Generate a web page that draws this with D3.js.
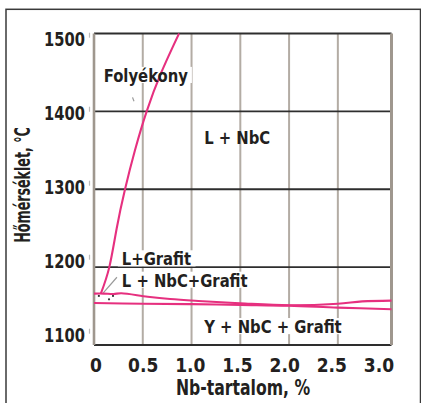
<!DOCTYPE html>
<html>
<head>
<meta charset="utf-8">
<script src="https://cdn.jsdelivr.net/npm/d3@7"></script>
<style>
  html, body { margin: 0; padding: 0; background: #fff; }
  svg { display: block; }
  text { font-family: "DejaVu Sans Condensed", "DejaVu Sans", sans-serif; font-weight: bold; fill: #231f20; }
</style>
</head>
<body>
<svg id="chart" width="421" height="403"></svg>
<script>
// Fe–C–Nb phase diagram section: temperature vs. Nb content
const xTicks = [0, 0.5, 1.0, 1.5, 2.0, 2.5, 3.0];
const xTickLabels = ["0", "0.5", "1.0", "1.5", "2.0", "2.5", "3.0"];
const yTicks = [1100, 1200, 1300, 1400, 1500];

// liquidus: onset of primary NbC
const liquidusNb   = [0.07, 0.157, 0.233, 0.318, 0.42, 0.54, 0.69, 0.872];
const liquidusTemp = [1166, 1200, 1250, 1300, 1350, 1400, 1450, 1500];

// upper eutectic line (start of L + NbC + Grafit)
const upperNb   = [0, 0.1, 0.2, 0.28, 0.55, 0.78, 1.07, 1.5, 2.0, 2.5, 2.75, 3.05];
const upperTemp = [1166, 1166, 1165.5, 1166.5, 1162, 1159, 1156.5, 1153.5, 1151, 1153, 1156, 1157];

// lower eutectic line (end of solidification)
const lowerNb   = [0, 0.5, 1.0, 1.5, 2.0, 2.5, 3.05];
const lowerTemp = [1154, 1153, 1152.5, 1151.5, 1150.5, 1148, 1146];

// phase-field labels (anchor in data units)
const labelText = ["Folyékony", "L + NbC", "L+Grafit", "L + NbC+Grafit", "Y + NbC + Grafit"];
const labelNb   = [0.1, 1.13, 0.285, 0.285, 1.13];
const labelTemp = [1438, 1358, 1202.5, 1175, 1115.5];
const labelBg   = [true, false, true, true, true];

const svg = d3.select("#chart");

const x = d3.scaleLinear().domain([0, 3.05]).range([94, 391.5]);
const y = d3.scaleLinear().domain([1100, 1500]).range([345, 33.5]);
// tick-label placement scales (labels are set slightly inside the grid span)
const xLab = d3.scaleLinear().domain([0, 3]).range([96, 379]);
const yLab = d3.scaleLinear().domain([1100, 1500]).range([341.7, 45.7]);

// text squeezed horizontally to a narrow face
function squeeze(sel, px, py, sx, rot) {
  return sel.attr("x", 0).attr("y", 0)
    .attr("transform", `translate(${px},${py})${rot ? " rotate(" + rot + ")" : ""} scale(${sx},1)`);
}

// outer frame
svg.append("rect")
  .attr("x", 6).attr("y", 9.3).attr("width", 414.5).attr("height", 420)
  .attr("fill", "none").attr("stroke", "#3a3a3a").attr("stroke-width", 1.5);

// vertical grid
svg.append("g").selectAll("line")
  .data(xTicks.filter(d => d > 0 && d < 3))
  .join("line")
  .attr("x1", d => x(d)).attr("x2", d => x(d))
  .attr("y1", y(1500)).attr("y2", y(1100))
  .attr("stroke", "#b3aca4").attr("stroke-width", 2);

// horizontal grid
svg.append("g").selectAll("line")
  .data(yTicks.filter(d => d > 1100 && d < 1500))
  .join("line")
  .attr("x1", x(0)).attr("x2", x(3.05))
  .attr("y1", d => y(d)).attr("y2", d => y(d))
  .attr("stroke", "#2e2e2e").attr("stroke-width", 1.8);

// plot frame
svg.append("line").attr("x1", x(0)).attr("x2", x(3.05)).attr("y1", y(1500)).attr("y2", y(1500))
  .attr("stroke", "#2e2e2e").attr("stroke-width", 2);
svg.append("line").attr("x1", x(0)).attr("x2", x(3.05)).attr("y1", y(1100)).attr("y2", y(1100))
  .attr("stroke", "#2e2e2e").attr("stroke-width", 2);
svg.append("line").attr("x1", x(0)).attr("x2", x(0)).attr("y1", y(1500)).attr("y2", y(1100))
  .attr("stroke", "#9f978e").attr("stroke-width", 2.6);
svg.append("line").attr("x1", x(3.05)).attr("x2", x(3.05)).attr("y1", y(1500)).attr("y2", y(1100))
  .attr("stroke", "#9f978e").attr("stroke-width", 3);

// y tick marks and labels
const yAxis = svg.append("g");
yAxis.selectAll("line").data(yTicks).join("line")
  .attr("x1", 89.5).attr("x2", 89.5)
  .attr("y1", d => yLab(d) - 13).attr("y2", d => yLab(d) - 8)
  .attr("stroke", "#bbb").attr("stroke-width", 1.2);
yAxis.selectAll("text").data(yTicks).join("text")
  .attr("text-anchor", "end")
  .style("font-size", "19px")
  .text(d => d)
  .each(function (d) { squeeze(d3.select(this), 85, yLab(d), 0.86); });

// x tick labels
svg.append("g").selectAll("text").data(xTicks).join("text")
  .attr("text-anchor", "middle")
  .style("font-size", "19px")
  .text((d, i) => xTickLabels[i])
  .each(function (d) { squeeze(d3.select(this), xLab(d), 372, 1.0); });

// axis titles
squeeze(svg.append("text"), 243, 395, 0.83)
  .attr("text-anchor", "middle")
  .style("font-size", "21px")
  .text("Nb-tartalom, %");
squeeze(svg.append("text"), 29.5, 185, 0.64, -90)
  .attr("text-anchor", "middle")
  .style("font-size", "22px")
  .text("Hőmérséklet, °C");

// label layer (white backdrops behind some labels)
const labels = labelText.map((t, i) => ({ t, nb: labelNb[i], temp: labelTemp[i], bg: labelBg[i] }));
const bgG = svg.append("g");
const lineG = svg.append("g");
const txtG = svg.append("g");
const labelSx = 0.89;

const texts = txtG.selectAll("text").data(labels).join("text")
  .style("font-size", "18.5px")
  .text(d => d.t)
  .each(function (d) { squeeze(d3.select(this), x(d.nb), y(d.temp), labelSx); });

texts.each(function (d) {
  if (!d.bg) return;
  const b = this.getBBox();
  bgG.append("rect")
    .attr("x", x(d.nb) + b.x * labelSx - 4)
    .attr("y", y(d.temp) + b.y + 2)
    .attr("width", b.width * labelSx + 8)
    .attr("height", b.height - 5)
    .attr("fill", "#fff");
});

// gray leader lines
lineG.append("line")
  .attr("x1", x(0.235)).attr("y1", y(1187)).attr("x2", x(0.095)).attr("y2", y(1167))
  .attr("stroke", "#999").attr("stroke-width", 1.2);
lineG.append("line")
  .attr("x1", x(0.395)).attr("y1", y(1418)).attr("x2", x(0.41)).attr("y2", y(1413))
  .attr("stroke", "#999").attr("stroke-width", 1.2);

// small dots in the narrow three-phase field
lineG.selectAll("circle").data([[0.05, 1163], [0.154, 1158.7], [0.195, 1163]]).join("circle")
  .attr("cx", d => x(d[0])).attr("cy", d => y(d[1])).attr("r", 1.1).attr("fill", "#333");

// phase boundaries
const pink = "#e6307f";
const smooth = d3.line().x(d => x(d[0])).y(d => y(d[1])).curve(d3.curveNatural);
const wavy = d3.line().x(d => x(d[0])).y(d => y(d[1])).curve(d3.curveCatmullRom);
lineG.append("path")
  .datum(liquidusNb.map((v, i) => [v, liquidusTemp[i]]))
  .attr("d", smooth)
  .attr("fill", "none").attr("stroke", pink).attr("stroke-width", 2.1);
lineG.append("path")
  .datum(upperNb.map((v, i) => [v, upperTemp[i]]))
  .attr("d", wavy)
  .attr("fill", "none").attr("stroke", pink).attr("stroke-width", 2.1);
lineG.append("path")
  .datum(lowerNb.map((v, i) => [v, lowerTemp[i]]))
  .attr("d", wavy)
  .attr("fill", "none").attr("stroke", pink).attr("stroke-width", 2.1);
</script>
</body>
</html>
